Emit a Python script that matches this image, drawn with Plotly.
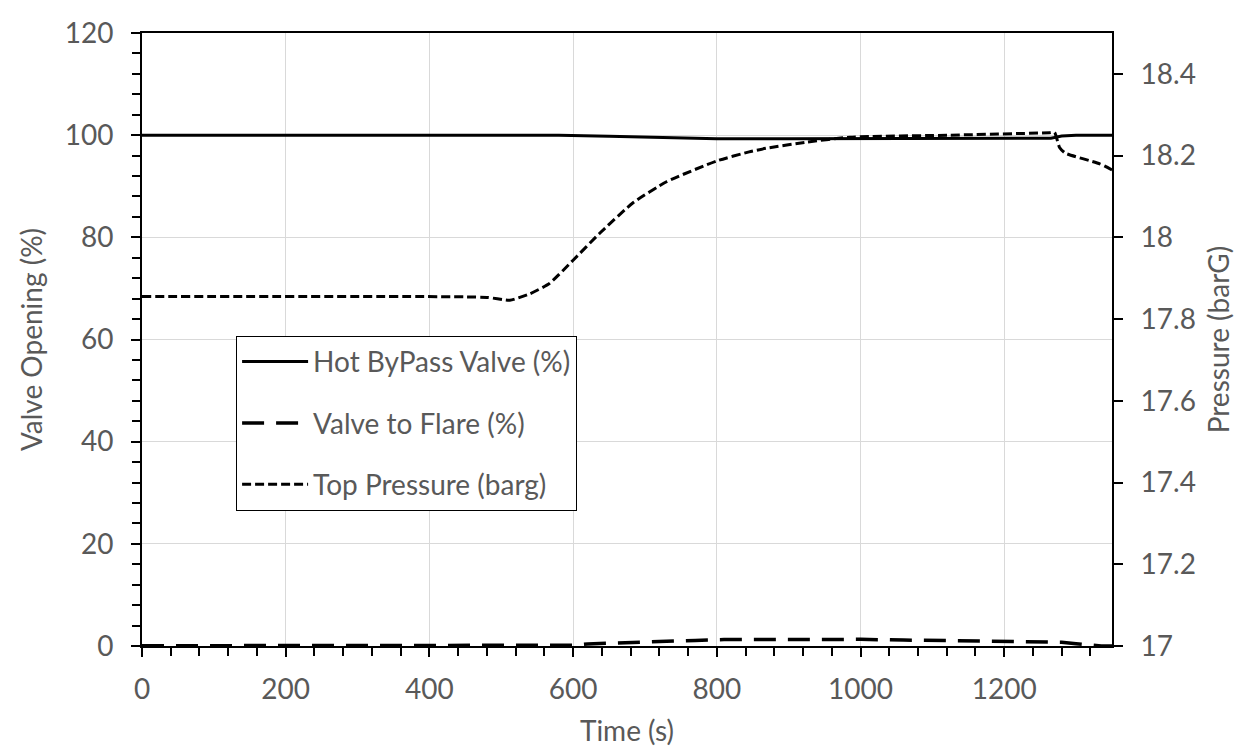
import plotly.graph_objects as go

# ---- data ----
t_bypass = [0, 500, 580, 650, 700, 750, 800, 900, 1000, 1100, 1200, 1265, 1280, 1300, 1350]
bypass = [100, 100, 100, 99.8, 99.6, 99.45, 99.32, 99.28, 99.35, 99.38, 99.4, 99.42, 99.85, 100, 100]

t_flare = [0, 580, 600, 620, 670, 720, 770, 810, 900, 1000, 1060, 1110, 1200, 1260, 1280, 1300, 1335, 1350]
flare = [0.05, 0.05, 0.15, 0.4, 0.67, 0.92, 1.1, 1.25, 1.33, 1.3, 1.17, 1.07, 0.98, 0.9, 0.75, 0.45, 0.0, 0.0]

t_press = [0, 480, 512, 540, 567, 600, 637, 683, 730, 800, 845, 869, 925, 985, 1124, 1263, 1270, 1277, 1285, 1333, 1350]
press = [17.855, 17.853, 17.846, 17.862, 17.887, 17.944, 18.01, 18.084, 18.136, 18.187, 18.209, 18.218,
         18.233, 18.245, 18.25, 18.256, 18.257, 18.22, 18.206, 18.18, 18.165]

x_ticks = [0, 200, 400, 600, 800, 1000, 1200]
y_ticks = [0, 20, 40, 60, 80, 100, 120]
y2_ticks = [17, 17.2, 17.4, 17.6, 17.8, 18, 18.2, 18.4]
y2_labels = ["17", "17.2", "17.4", "17.6", "17.8", "18", "18.2", "18.4"]

FONT = "Lato"
GRAY = "#595959"
FS = 28

fig = go.Figure()
fig.add_trace(go.Scatter(x=t_bypass, y=bypass, name="Hot ByPass Valve (%)", mode="lines",
                         line=dict(color="black", width=3), legendgroup="a"))
fig.add_trace(go.Scatter(x=t_flare, y=flare, name="Valve to Flare (%)", mode="lines",
                         line=dict(color="black", width=3.5, dash="22px,12px"), legendgroup="b"))
fig.add_trace(go.Scatter(x=t_press, y=press, name="Top Pressure (barg)", mode="lines", yaxis="y2",
                         line=dict(color="black", width=3, dash="9px,4px", shape="spline", smoothing=0.5),
                         legendgroup="c"))

fig.update_layout(
    width=1247, height=753,
    margin=dict(l=142, r=135, t=33, b=107),
    paper_bgcolor="white", plot_bgcolor="white",
    font=dict(family=FONT, size=FS, color=GRAY),
    xaxis=dict(range=[0, 1350], tickvals=x_ticks, showgrid=True, gridcolor="#d9d9d9", gridwidth=1,
               showline=True, linecolor="black", linewidth=2, mirror=True,
               ticks="outside", ticklen=9, tickwidth=2, tickcolor="black",
               minor=dict(dtick=40, tick0=0, ticks="outside", ticklen=8, tickwidth=1.5, tickcolor="black", showgrid=False),
               zeroline=False, ticklabelstandoff=8,
               title=dict(text="Time (s)", standoff=18, font=dict(size=FS, color=GRAY))),
    yaxis=dict(range=[0, 120], tickvals=y_ticks, showgrid=True, gridcolor="#d9d9d9", gridwidth=1,
               showline=True, linecolor="black", linewidth=2,
               ticks="outside", ticklen=9, tickwidth=2, tickcolor="black",
               minor=dict(dtick=4, tick0=0, ticks="outside", ticklen=8, tickwidth=1.5, tickcolor="black", showgrid=False),
               zeroline=False, ticklabelstandoff=12,
               title=dict(text="Valve Opening (%)", standoff=14, font=dict(size=FS, color=GRAY))),
    yaxis2=dict(range=[17, 18.5], tickvals=y2_ticks, ticktext=y2_labels,
                overlaying="y", side="right", showgrid=False,
                showline=True, linecolor="black", linewidth=2,
                ticks="outside", ticklen=9, tickwidth=2, tickcolor="black",
                zeroline=False, ticklabelstandoff=12,
                title=dict(text="Pressure (barG)", standoff=14, font=dict(size=FS, color=GRAY))),
    xaxis2=dict(range=[0, 1350], tickvals=x_ticks, overlaying="x", anchor="y", side="bottom",
                ticks="inside", ticklen=9, tickwidth=2, tickcolor="black",
                showticklabels=False, showgrid=False, showline=False, zeroline=False),
    yaxis3=dict(range=[0, 120], tickvals=y_ticks, overlaying="y", anchor="x", side="left",
                ticks="inside", ticklen=9, tickwidth=2, tickcolor="black",
                showticklabels=False, showgrid=False, showline=False, zeroline=False),
    legend=dict(x=0.097, y=0.506, xanchor="left", yanchor="top",
                bordercolor="black", borderwidth=1, bgcolor="white",
                font=dict(size=FS, color=GRAY, family=FONT),
                itemwidth=66, tracegroupgap=22, traceorder="grouped"),
    showlegend=True,
)

fig.write_html("out.html")
